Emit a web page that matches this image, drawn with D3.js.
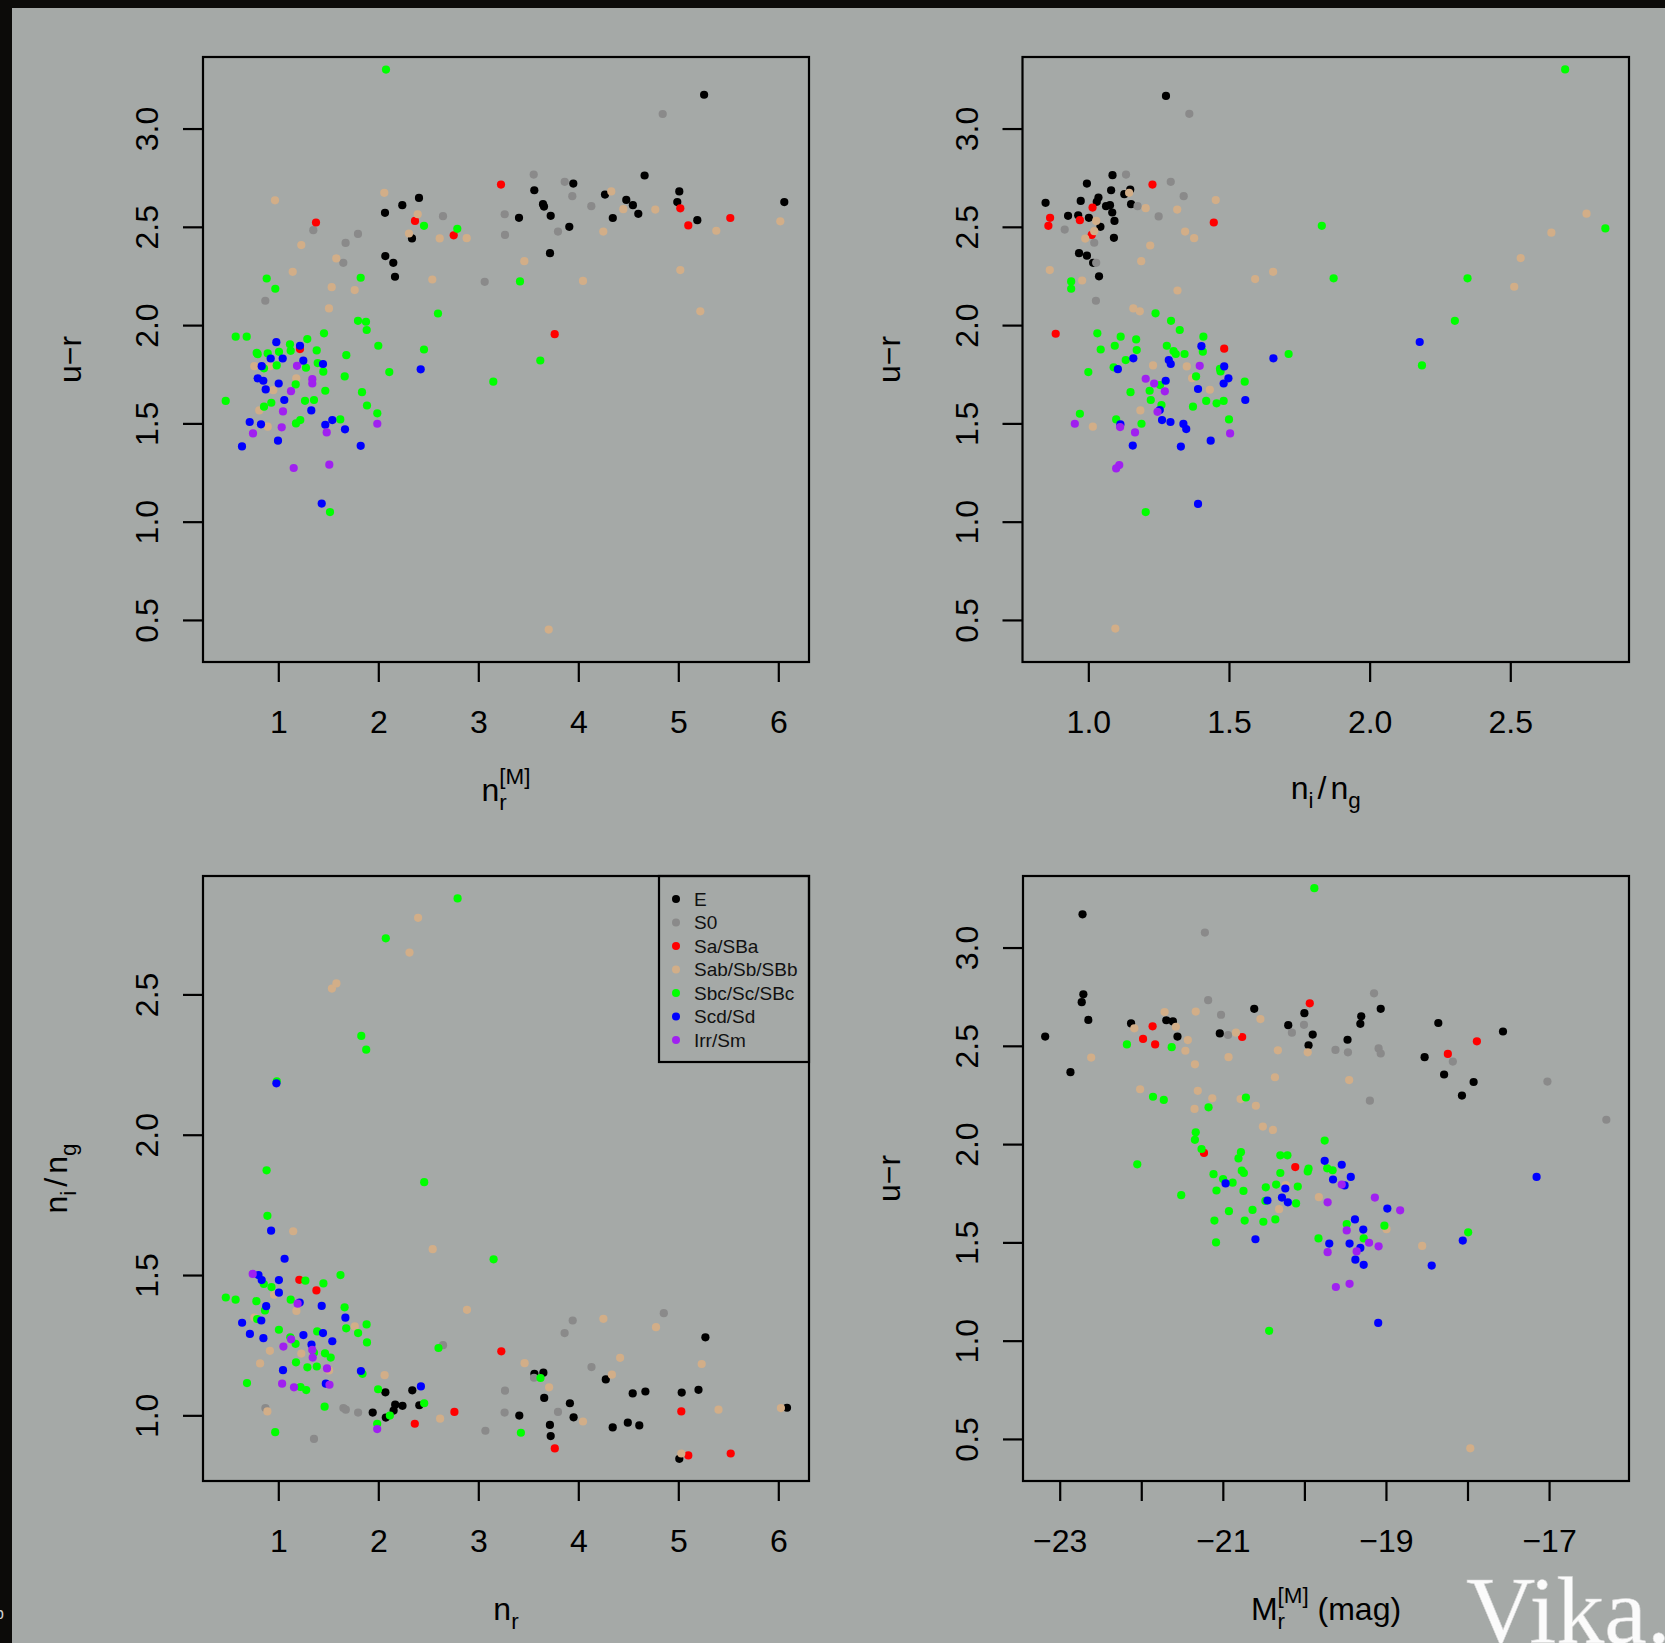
<!DOCTYPE html>
<html>
<head>
<meta charset="utf-8">
<script src="https://cdn.jsdelivr.net/npm/d3@7"></script>
<style>
  html, body { margin: 0; padding: 0; background: #0c0b09; overflow: hidden; }
  svg { display: block; }
</style>
</head>
<body>
<svg id="fig" width="1665" height="1643"></svg>
<script>
// ---- morphological classes ----
const classNames  = ["E", "S0", "Sa/SBa", "Sab/Sb/SBb", "Sbc/Sc/SBc", "Scd/Sd", "Irr/Sm"];
const classColors = ["#000000", "#8a8a8a", "#ff0000", "#d2ae88", "#00ff00", "#0000ff", "#a020f0"];

// ---- tick values ----
const ticksNr  = [1, 2, 3, 4, 5, 6];
const ticksUr  = [0.5, 1.0, 1.5, 2.0, 2.5, 3.0];
const ticksNig = [1.0, 1.5, 2.0, 2.5];
const ticksMr  = [-23, -22, -21, -20, -19, -18, -17];

// ---- axis ranges ----
const domNr  = [0.247, 6.307];
const domUr  = [0.286, 3.364];
const domNig = [0.766, 2.922];
const domMr  = [-23.45, -16.02];

// ---- u-r versus n_r^[M]  (pairs: [n_r, u-r]) ----
const urNr_E = [[2.407,2.647],[2.24,2.61],[2.067,2.571],[2.337,2.441],[2.07,2.351],[2.15,2.317],[2.167,2.246],[3.56,2.686],[3.95,2.72],[3.647,2.615],[3.657,2.603],[3.724,2.556],[3.407,2.546],[3.91,2.5],[3.717,2.366],[4.267,2.664],[4.663,2.761],[5.258,3.172],[4.48,2.637],[4.546,2.61],[4.6,2.566],[5.01,2.68],[4.99,2.626],[5.19,2.534],[6.06,2.626],[4.345,2.545]];
const urNr_S0 = [[1.35,2.483],[1.797,2.464],[1.673,2.418],[1.65,2.317],[0.87,2.124],[2.647,2.554],[3.064,2.22],[3.554,2.766],[3.864,2.729],[3.94,2.656],[3.264,2.564],[3.267,2.459],[3.797,2.476],[4.13,2.605],[4.844,3.074]];
const urNr_Sa = [[1.377,2.522],[2.367,2.53],[2.754,2.457],[3.227,2.715],[3.764,1.954],[1.217,1.878],[5.02,2.594],[5.1,2.507],[5.52,2.545]];
const urNr_Sab = [[0.967,2.635],[1.23,2.407],[1.58,2.339],[1.144,2.271],[1.534,2.193],[1.764,2.178],[1.507,2.085],[2.06,2.673],[2.394,2.564],[2.307,2.466],[2.614,2.441],[2.884,2.442],[2.54,2.232],[3.46,2.325],[4.047,2.225],[4.25,2.476],[0.76,1.791],[0.917,1.791],[1.18,1.729],[0.95,1.669],[0.81,1.566],[0.894,1.483],[3.704,0.451],[4.33,2.68],[4.77,2.588],[4.45,2.59],[6.02,2.528],[5.38,2.48],[5.02,2.28],[5.22,2.07]];
const urNr_Sbc = [[2.077,3.30],[0.884,2.237],[1.824,2.241],[0.97,2.185],[2.457,2.505],[2.79,2.49],[3.417,2.222],[2.597,2.059],[1.797,2.022],[1.877,2.017],[0.574,1.941],[0.684,1.941],[1.117,1.902],[1.29,1.929],[1.457,1.958],[1.124,1.869],[0.784,1.859],[0.794,1.852],[0.894,1.856],[1.007,1.864],[1.384,1.871],[1.68,1.847],[1.394,1.807],[0.857,1.78],[0.984,1.795],[1.277,1.783],[1.45,1.763],[1.664,1.739],[2.11,1.761],[1.174,1.698],[1.47,1.666],[1.837,1.659],[0.474,1.614],[0.93,1.605],[0.857,1.585],[1.267,1.615],[1.357,1.619],[1.887,1.591],[1.99,1.551],[1.177,1.5],[1.22,1.517],[1.62,1.52],[1.517,1.049],[1.884,1.975],[2.0,1.895],[2.457,1.876],[3.62,1.82],[3.15,1.712]];
const urNr_Scd = [[0.98,1.913],[1.217,1.895],[0.924,1.83],[1.044,1.83],[1.25,1.819],[1.447,1.802],[0.834,1.791],[2.424,1.775],[0.794,1.729],[0.85,1.717],[1.004,1.703],[0.874,1.673],[1.06,1.619],[1.33,1.566],[0.714,1.507],[0.827,1.495],[1.47,1.493],[1.54,1.517],[1.667,1.47],[0.637,1.383],[0.997,1.412],[1.824,1.386],[1.434,1.092]];
const urNr_Irr = [[1.187,1.793],[1.34,1.725],[1.34,1.703],[1.127,1.664],[1.047,1.561],[1.034,1.48],[1.99,1.498],[0.747,1.449],[1.484,1.454],[1.154,1.273],[1.51,1.29]];

// ---- u-r versus n_i/n_g  (pairs: [n_i/n_g, u-r]) ----
const urNig_E = [[1.086,2.763],[0.995,2.72],[1.081,2.686],[1.149,2.69],[1.128,2.666],[0.848,2.622],[0.973,2.632],[1.036,2.649],[1.03,2.627],[1.063,2.605],[1.077,2.61],[1.152,2.615],[1.085,2.573],[0.928,2.556],[0.964,2.559],[1.002,2.546],[1.093,2.53],[1.043,2.5],[1.091,2.444],[0.967,2.366],[0.995,2.353],[1.017,2.317],[1.038,2.248],[1.276,3.166]];
const urNig_S0 = [[1.134,2.766],[1.293,2.729],[1.339,2.656],[1.175,2.605],[1.25,2.553],[0.916,2.486],[1.021,2.419],[1.028,2.317],[1.027,2.124],[1.359,3.075]];
const urNig_Sa = [[1.228,2.715],[1.015,2.598],[0.864,2.546],[0.858,2.505],[0.97,2.534],[1.446,2.522],[1.012,2.459],[0.884,1.956],[1.483,1.88]];
const urNig_Sab = [[1.145,2.673],[1.453,2.636],[1.204,2.595],[1.316,2.588],[1.028,2.53],[1.021,2.478],[0.989,2.44],[1.344,2.476],[1.376,2.442],[1.22,2.405],[1.188,2.325],[0.863,2.28],[0.978,2.227],[1.317,2.176],[1.593,2.234],[1.657,2.271],[1.16,2.085],[1.183,2.07],[1.23,1.795],[1.35,1.79],[1.369,1.73],[1.432,1.671],[1.185,1.566],[1.016,1.483],[1.096,0.456],[2.514,2.195],[2.537,2.341],[2.646,2.47],[2.771,2.567]];
const urNig_Sbc = [[0.939,2.222],[0.939,2.185],[1.83,2.505],[1.239,2.06],[1.294,2.022],[1.325,1.975],[1.032,1.958],[1.115,1.941],[1.17,1.927],[1.409,1.941],[1.044,1.876],[1.094,1.895],[1.172,1.873],[1.279,1.895],[1.303,1.868],[1.311,1.853],[1.342,1.853],[1.407,1.865],[1.712,1.853],[1.133,1.822],[1.0,1.761],[1.09,1.785],[1.468,1.778],[1.47,1.764],[1.255,1.695],[1.383,1.739],[1.556,1.712],[1.15,1.659],[1.218,1.666],[1.222,1.619],[1.419,1.614],[1.456,1.602],[1.481,1.614],[1.372,1.585],[1.26,1.593],[0.97,1.549],[1.099,1.52],[1.5,1.52],[1.189,1.498],[1.204,1.049],[1.872,2.238],[2.186,1.795],[2.303,2.022],[2.348,2.238],[2.838,2.492],[2.695,3.301]];
const urNig_Scd = [[1.402,1.893],[1.658,1.831],[1.16,1.831],[1.286,1.822],[1.293,1.802],[1.105,1.776],[1.483,1.79],[1.275,1.717],[1.498,1.729],[1.481,1.703],[1.39,1.675],[1.558,1.619],[1.254,1.568],[1.262,1.517],[1.292,1.507],[1.338,1.497],[1.348,1.471],[1.114,1.495],[1.435,1.412],[1.158,1.387],[1.329,1.382],[1.39,1.09],[2.178,1.914]];
const urNig_Irr = [[1.396,1.793],[1.204,1.727],[1.234,1.703],[1.272,1.663],[1.246,1.559],[0.952,1.498],[1.113,1.481],[1.166,1.454],[1.504,1.449],[1.099,1.271],[1.11,1.288]];

// ---- n_i/n_g versus n_r  (pairs: [n_r, n_i/n_g]) ----
const nigNr_E = [[2.071,1.082],[2.34,1.089],[2.169,1.038],[2.242,1.034],[2.41,1.036],[1.944,1.01],[2.153,1.017],[2.075,0.992],[3.561,1.148],[3.651,1.152],[3.659,1.062],[3.41,0.999],[3.916,1.043],[3.953,0.993],[3.716,0.966],[3.724,0.926],[4.275,1.128],[4.344,0.957],[4.495,0.974],[4.61,0.964],[4.544,1.078],[4.671,1.085],[5.034,1.081],[5.202,1.091],[5.271,1.278],[5.01,0.845],[6.087,1.027]];
const nigNr_S0 = [[0.871,1.026],[1.651,1.026],[1.675,1.02],[1.798,1.01],[1.357,0.916],[2.647,1.25],[3.071,0.945],[3.263,1.01],[3.267,1.088],[3.557,1.134],[3.797,1.012],[3.863,1.293],[3.944,1.338],[4.132,1.172],[4.855,1.364]];
const nigNr_Sa = [[1.21,1.483],[1.381,1.445],[2.365,0.97],[2.761,1.012],[3.23,1.228],[3.765,0.882],[5.03,1.014],[5.1,0.857],[5.524,0.864]];
const nigNr_Sab = [[2.398,2.773],[2.312,2.649],[1.536,2.521],[1.581,2.539],[1.149,1.656],[2.544,1.592],[0.957,1.43],[1.181,1.372],[0.761,1.348],[1.765,1.317],[0.916,1.23],[1.23,1.22],[0.818,1.185],[1.508,1.16],[2.063,1.143],[0.891,1.014],[2.618,0.988],[2.887,1.376],[3.463,1.186],[3.708,1.1],[4.047,0.978],[4.251,1.344],[4.336,1.145],[4.418,1.205],[4.777,1.314],[5.234,1.183],[5.402,1.02],[5.03,0.864],[6.026,1.026]];
const nigNr_Sbc = [[2.793,2.842],[2.075,2.7],[1.83,2.352],[1.879,2.303],[0.985,2.19],[0.883,1.873],[2.459,1.831],[0.891,1.711],[3.153,1.556],[1.622,1.5],[1.271,1.48],[1.451,1.47],[0.855,1.468],[0.932,1.457],[0.475,1.42],[0.573,1.412],[0.781,1.407],[1.124,1.412],[0.867,1.374],[1.663,1.385],[0.789,1.343],[1.679,1.31],[1.883,1.324],[1.006,1.305],[1.798,1.293],[1.12,1.278],[1.389,1.299],[1.887,1.26],[1.173,1.255],[1.357,1.223],[1.467,1.221],[1.524,1.206],[2.602,1.24],[1.177,1.189],[1.291,1.171],[1.385,1.174],[1.842,1.148],[0.687,1.115],[1.222,1.101],[1.279,1.09],[1.998,1.093],[1.463,1.031],[2.459,1.043],[2.116,0.999],[1.989,0.97],[0.969,0.94],[3.622,1.133],[3.426,0.938]];
const nigNr_Scd = [[0.981,2.183],[0.928,1.658],[1.063,1.558],[0.802,1.5],[0.834,1.482],[1.006,1.482],[1.006,1.437],[1.214,1.402],[0.879,1.389],[1.434,1.39],[0.83,1.338],[0.638,1.33],[1.671,1.348],[0.716,1.29],[0.851,1.275],[1.251,1.286],[1.447,1.293],[1.54,1.264],[1.332,1.252],[1.047,1.161],[1.826,1.158],[1.475,1.113],[2.426,1.103]];
const nigNr_Irr = [[0.744,1.504],[1.193,1.398],[1.128,1.271],[1.051,1.245],[1.34,1.233],[1.344,1.206],[1.487,1.167],[1.038,1.113],[1.157,1.1],[1.512,1.109],[1.989,0.951]];

// ---- u-r versus M_r^[M]  (pairs: [M_r, u-r]) ----
const urMr_E = [[-22.72,3.169],[-22.71,2.762],[-22.73,2.722],[-22.649,2.632],[-23.178,2.547],[-22.868,2.366],[-22.125,2.614],[-21.693,2.63],[-21.612,2.624],[-21.556,2.547],[-21.037,2.563],[-20.615,2.688],[-20.198,2.605],[-20.0,2.666],[-19.898,2.557],[-19.949,2.503],[-19.471,2.531],[-19.303,2.65],[-19.314,2.612],[-19.064,2.688],[-18.358,2.616],[-18.526,2.442],[-18.287,2.354],[-17.925,2.316],[-18.068,2.247],[-17.565,2.573]];
const urMr_S0 = [[-21.22,3.076],[-21.18,2.732],[-19.146,2.767],[-21.022,2.658],[-20.936,2.555],[-20.153,2.567],[-20.005,2.607],[-19.619,2.479],[-19.466,2.467],[-19.09,2.487],[-19.064,2.461],[-19.197,2.221],[-18.18,2.42],[-17.02,2.318],[-16.298,2.124]];
const urMr_Sa = [[-21.861,2.599],[-20.763,2.545],[-21.978,2.535],[-21.83,2.507],[-19.934,2.716],[-18.241,2.459],[-17.885,2.523],[-21.231,1.955],[-20.112,1.883]];
const urMr_Sab = [[-22.085,2.589],[-21.714,2.672],[-21.576,2.597],[-21.332,2.674],[-20.839,2.567],[-20.539,2.636],[-21.429,2.529],[-21.459,2.475],[-22.614,2.44],[-21.342,2.406],[-20.93,2.442],[-20.325,2.477],[-20.361,2.34],[-19.959,2.467],[-19.451,2.326],[-22.014,2.279],[-21.307,2.271],[-21.129,2.233],[-21.347,2.179],[-20.783,2.229],[-20.595,2.195],[-20.509,2.089],[-20.386,2.072],[-20.229,1.792],[-19.822,1.73],[-20.31,1.669],[-18.993,1.567],[-18.556,1.482],[-17.966,0.452]];
const urMr_Sbc = [[-19.878,3.302],[-22.176,2.507],[-21.627,2.493],[-21.856,2.241],[-21.724,2.225],[-20.717,2.237],[-21.175,2.187],[-21.332,2.06],[-21.342,2.022],[-21.261,1.975],[-22.049,1.897],[-20.778,1.959],[-20.808,1.927],[-20.295,1.943],[-20.208,1.943],[-19.751,2.018],[-19.959,1.861],[-19.949,1.875],[-19.72,1.877],[-19.654,1.867],[-21.114,1.847],[-20.997,1.822],[-20.88,1.804],[-20.768,1.865],[-20.742,1.853],[-20.295,1.853],[-21.51,1.74],[-21.078,1.764],[-20.747,1.762],[-20.473,1.78],[-20.346,1.794],[-20.081,1.784],[-20.478,1.711],[-20.102,1.698],[-20.925,1.659],[-20.636,1.665],[-21.103,1.611],[-20.732,1.611],[-20.503,1.605],[-20.356,1.617],[-21.083,1.5],[-19.481,1.593],[-19.019,1.585],[-19.827,1.52],[-19.273,1.52],[-17.992,1.551],[-20.432,1.05]];
const urMr_Scd = [[-19.751,1.915],[-19.542,1.895],[-19.431,1.833],[-19.649,1.82],[-19.507,1.79],[-20.966,1.8],[-20.234,1.774],[-20.275,1.728],[-20.203,1.704],[-20.453,1.713],[-18.983,1.672],[-20.6,1.516],[-19.38,1.617],[-19.278,1.565],[-19.695,1.494],[-19.446,1.494],[-19.314,1.472],[-19.375,1.412],[-19.273,1.386],[-18.058,1.509],[-18.439,1.382],[-17.153,1.833],[-19.095,1.09]];
const urMr_Irr = [[-19.542,1.794],[-19.715,1.704],[-19.136,1.728],[-18.826,1.663],[-19.481,1.561],[-19.207,1.498],[-19.09,1.48],[-19.715,1.45],[-19.359,1.454],[-19.614,1.273],[-19.446,1.289]];

// ---- figure ----
const svg = d3.select("#fig");
const BG = "#a5a9a7";
const SANS = "'Liberation Sans', Arial, Helvetica, sans-serif";
const SERIF = "'Liberation Serif', 'Times New Roman', 'DejaVu Serif', serif";
const FS = 32, FS_SCRIPT = 22.4;

svg.append("rect").attr("x", 0).attr("y", 0).attr("width", 1665).attr("height", 1643).attr("fill", "#0c0b09");
svg.append("rect").attr("x", 12).attr("y", 8).attr("width", 1653).attr("height", 1635).attr("fill", BG);

const fmt1 = d3.format(".1f");
const fmtInt = d3.format("d");
const fmtMag = d => (d % 2 === 0 ? "" : "\u2212" + Math.abs(d));

// Lays out a label with subscripts / superscripts, centred on (tx, ty).
// Parts: plain strings, {sub, sup} stacked scripts, or {gap} extra space.
function mathLabel(parts, tx, ty, rotate) {
  const g = svg.append("g");
  const inner = g.append("g");
  let cursor = 0;
  const put = (str, dy, size) => inner.append("text")
    .attr("x", cursor).attr("y", dy)
    .style("font-family", SANS).style("white-space", "pre")
    .attr("font-size", size).attr("fill", "#000").text(str);
  parts.forEach(p => {
    if (typeof p === "string") {
      cursor += put(p, 0, FS).node().getComputedTextLength();
    } else if (p.gap) {
      cursor += p.gap;
    } else {
      let w = 0;
      if (p.sub) w = Math.max(w, put(p.sub, 9, FS_SCRIPT).node().getComputedTextLength());
      if (p.sup) w = Math.max(w, put(p.sup, -17, FS_SCRIPT).node().getComputedTextLength());
      cursor += w;
    }
  });
  inner.attr("transform", `translate(${-cursor / 2},0)`);
  g.attr("transform", `translate(${tx},${ty})` + (rotate ? " rotate(-90)" : ""));
}

function drawPanel(cfg) {
  const g = svg.append("g");
  const x = d3.scaleLinear().domain(cfg.xDomain).range([cfg.x0, cfg.x1]);
  const y = d3.scaleLinear().domain(cfg.yDomain).range([cfg.y1, cfg.y0]);

  cfg.series.forEach((pts, i) => {
    g.append("g").selectAll("circle").data(pts).join("circle")
      .attr("cx", d => x(d[0])).attr("cy", d => y(d[1]))
      .attr("r", 4.1).attr("fill", classColors[i]);
  });

  g.append("rect")
    .attr("x", cfg.x0).attr("y", cfg.y0)
    .attr("width", cfg.x1 - cfg.x0).attr("height", cfg.y1 - cfg.y0)
    .attr("fill", "none").attr("stroke", "#000").attr("stroke-width", 2.2);

  const ax = g.append("g").attr("transform", `translate(0,${cfg.y1})`)
    .call(d3.axisBottom(x).tickValues(cfg.xTicks).tickFormat(cfg.xFmt).tickSize(20).tickSizeOuter(0));
  ax.attr("font-size", null).attr("font-family", null);
  ax.select(".domain").remove();
  ax.selectAll(".tick line").attr("stroke", "#000").attr("stroke-width", 2.2);
  ax.selectAll(".tick text").attr("y", 71).attr("dy", null)
    .style("font-family", SANS)
    .attr("font-size", FS).attr("fill", "#000").attr("text-anchor", "middle");

  const ay = g.append("g").attr("transform", `translate(${cfg.x0},0)`)
    .call(d3.axisLeft(y).tickValues(cfg.yTicks).tickFormat(cfg.yFmt).tickSize(20).tickSizeOuter(0));
  ay.attr("font-size", null).attr("font-family", null);
  ay.select(".domain").remove();
  ay.selectAll(".tick line").attr("stroke", "#000").attr("stroke-width", 2.2);
  ay.selectAll(".tick text").attr("x", 0).attr("y", 0).attr("dy", null)
    .attr("transform", "translate(-45,0) rotate(-90)")
    .style("font-family", SANS)
    .attr("font-size", FS).attr("fill", "#000").attr("text-anchor", "middle");

  const cx = (cfg.x0 + cfg.x1) / 2, cy = (cfg.y0 + cfg.y1) / 2;
  mathLabel(cfg.xLabel, cx, cfg.y1 + cfg.xLabelOff, false);
  mathLabel(cfg.yLabel, cfg.yLabelX, cy, true);
  return { x, y };
}

const labUr  = ["u\u2212r"];
const labNig = ["n", { sub: "i" }, { gap: 4 }, "/", { gap: 4 }, "n", { sub: "g" }];

drawPanel({
  x0: 203, x1: 809, y0: 57, y1: 662,
  xDomain: domNr, yDomain: domUr, xTicks: ticksNr, yTicks: ticksUr, xFmt: fmtInt, yFmt: fmt1,
  series: [urNr_E, urNr_S0, urNr_Sa, urNr_Sab, urNr_Sbc, urNr_Scd, urNr_Irr],
  xLabel: ["n", { sub: "r", sup: "[M]" }], xLabelOff: 139,
  yLabel: labUr, yLabelX: 81
});

drawPanel({
  x0: 1022.5, x1: 1629, y0: 57, y1: 662,
  xDomain: domNig, yDomain: domUr, xTicks: ticksNig, yTicks: ticksUr, xFmt: fmt1, yFmt: fmt1,
  series: [urNig_E, urNig_S0, urNig_Sa, urNig_Sab, urNig_Sbc, urNig_Scd, urNig_Irr],
  xLabel: labNig, xLabelOff: 137,
  yLabel: labUr, yLabelX: 900
});

drawPanel({
  x0: 203, x1: 809, y0: 876, y1: 1481,
  xDomain: domNr, yDomain: domNig, xTicks: ticksNr, yTicks: ticksNig, xFmt: fmtInt, yFmt: fmt1,
  series: [nigNr_E, nigNr_S0, nigNr_Sa, nigNr_Sab, nigNr_Sbc, nigNr_Scd, nigNr_Irr],
  xLabel: ["n", { sub: "r" }], xLabelOff: 139,
  yLabel: labNig, yLabelX: 67
});

drawPanel({
  x0: 1023, x1: 1629, y0: 876, y1: 1481,
  xDomain: domMr, yDomain: domUr, xTicks: ticksMr, yTicks: ticksUr, xFmt: fmtMag, yFmt: fmt1,
  series: [urMr_E, urMr_S0, urMr_Sa, urMr_Sab, urMr_Sbc, urMr_Scd, urMr_Irr],
  xLabel: ["M", { sub: "r", sup: "[M]" }, "\u00a0(mag)"], xLabelOff: 139,
  yLabel: labUr, yLabelX: 900
});

// ---- legend (lower-left panel, top-right corner) ----
const legend = svg.append("g");
legend.append("rect").attr("x", 659).attr("y", 876).attr("width", 150).attr("height", 186)
  .attr("fill", "none").attr("stroke", "#000").attr("stroke-width", 2.2);
const rowY = d3.scaleLinear().domain([0, 6]).range([899, 1040]);
classNames.forEach((name, i) => {
  legend.append("circle").attr("cx", 676).attr("cy", rowY(i)).attr("r", 4).attr("fill", classColors[i]);
  legend.append("text").attr("x", 694).attr("y", rowY(i) + 6.5)
    .style("font-family", SANS)
    .attr("font-size", 19).attr("fill", "#111").text(name);
});

// ---- corner marks ----
svg.append("text").attr("x", 1466).attr("y", 1643)
  .style("font-family", SERIF).attr("font-size", 96)
  .attr("fill", "#fbfbfb").attr("stroke", "#d8d8d8").attr("stroke-width", 0.6)
  .text("Vika.");
svg.append("text").attr("x", -5).attr("y", 1619)
  .style("font-family", SANS)
  .attr("font-size", 16).attr("fill", "#cfcfcf").text("b");
</script>
</body>
</html>
